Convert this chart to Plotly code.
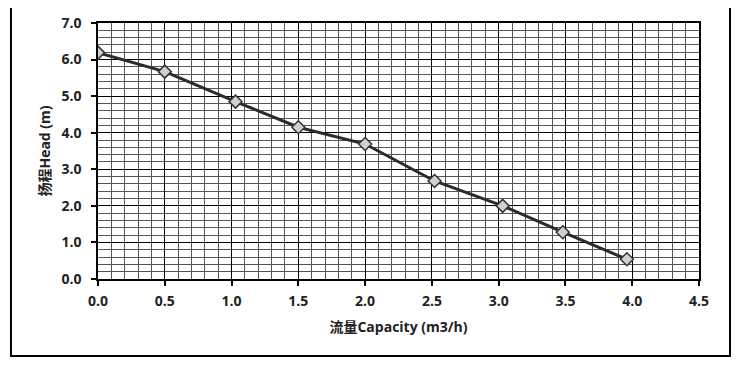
import plotly.graph_objects as go

capacity = [0.0, 0.5, 1.03, 1.5, 2.0, 2.52, 3.03, 3.48, 3.96]
head = [6.19, 5.67, 4.85, 4.15, 3.69, 2.68, 2.0, 1.28, 0.54]

x_title = "流量Capacity (m3/h)"
y_title = "扬程Head (m)"

FONT = "Open Sans, Noto Sans CJK SC, sans-serif"

fig = go.Figure()
fig.add_trace(go.Scatter(
    x=capacity, y=head, mode="lines+markers",
    line=dict(color="#2b2b2b", width=3),
    marker=dict(symbol="diamond", size=10, color="#d0d0d0",
                line=dict(color="#333333", width=1.5)),
    showlegend=False,
))

axis_common = dict(
    showline=True, linecolor="black", linewidth=1.5, mirror=True,
    ticks="outside", ticklen=5, tickcolor="black", tickwidth=1.5,
    showgrid=True, gridcolor="black", gridwidth=1.3,
    zeroline=False, automargin=False,
    tickfont=dict(family=FONT, size=14, color="#222", weight="bold"),
)

fig.update_xaxes(
    range=[0, 4.5], dtick=0.5, tick0=0, tickformat=".1f",
    ticklabelstandoff=3,
    minor=dict(dtick=0.1, showgrid=True, gridcolor="#555555", gridwidth=1, ticks=""),
    title=dict(text=x_title, font=dict(family=FONT, size=14, color="#222", weight="bold"), standoff=14),
    **axis_common,
)
fig.update_yaxes(
    range=[0, 7], dtick=1, tick0=0, tickformat=".1f",
    ticklabelstandoff=7,
    minor=dict(dtick=0.2, showgrid=True, gridcolor="#555555", gridwidth=1, ticks=""),
    title=dict(text=y_title, font=dict(family=FONT, size=14, color="#222", weight="bold"), standoff=8),
    **axis_common,
)

fig.add_shape(type="rect", xref="paper", yref="paper",
              x0=-0.1448, x1=1.0516, y0=-0.3008, y1=1.0664,
              line=dict(color="black", width=2), layer="below")

fig.update_layout(
    width=736, height=359,
    margin=dict(l=90, r=45, t=15, b=88),
    paper_bgcolor="white", plot_bgcolor="white",
)

fig.write_html("out.html")
